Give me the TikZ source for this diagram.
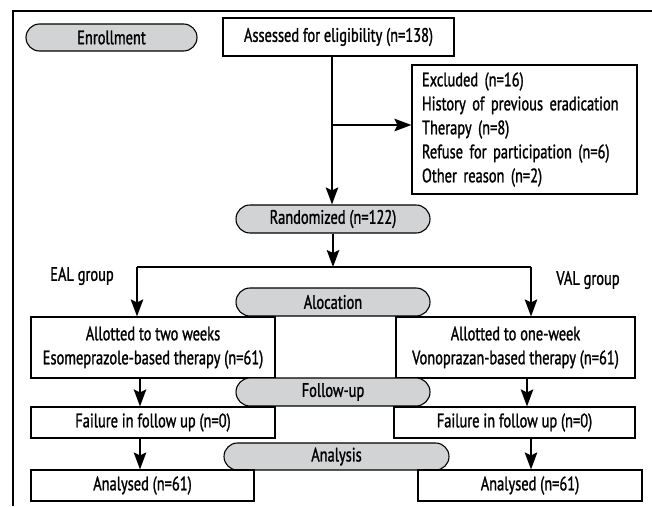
\documentclass[tikz,border=0pt]{standalone}
\usepackage{fontspec}
\setmainfont{PT Sans}[FakeStretch=0.74,FakeBold=1.2]
\usetikzlibrary{shapes.misc,arrows.meta}
\definecolor{pillgray}{HTML}{D1D3D4}
\begin{document}
\begin{tikzpicture}[x=1pt,y=-1pt,
  every node/.style={font=\fontsize{19.5}{24}\selectfont, inner sep=0pt},
  box/.style={draw, line width=1.1pt, rectangle, align=center},
  pill/.style={draw, line width=1.1pt, fill=pillgray, rounded rectangle, rounded rectangle arc length=180, minimum height=28pt},
  arr/.style={line width=2pt, -{Stealth[length=17pt,width=12.5pt,inset=3pt]}},
  ln/.style={line width=2pt}]
\useasboundingbox (0,0) rectangle (652,506);
\draw[ln] (13,506) -- (13,11) -- (652,11);
% nodes
\node[pill, minimum width=171pt, minimum height=27pt] (enr) at (111.5,37.5) {Enrollment};
\node[box, minimum width=231pt, minimum height=38pt] (assess) at (338.5,37) {Assessed for eligibility (n=138)};
\node[box, text width=205pt, inner xsep=10pt, align=left, minimum height=129pt] (excl) at (524.5,129.5)
  {Excluded (n=16)\\History of previous eradication\\Therapy (n=8)\\Refuse for participation (n=6)\\Other reason (n=2)};
\node[pill, minimum width=194pt] (rand) at (333,219) {Randomized (n=122)};
\node (eal) at (82,276) {EAL group};
\node (val) at (588,280) {VAL group};
\node[pill, minimum width=194pt] (aloc) at (333,302) {Alocation};
\node[box, minimum width=244pt, minimum height=61pt] (L1) at (153,347.5) {Allotted to two weeks\\Esomeprazole-based therapy (n=61)};
\node[box, minimum width=239pt, minimum height=61pt] (R1) at (515.5,347.5) {Allotted to one-week\\Vonoprazan-based therapy (n=61)};
\node[pill, minimum width=194pt] (fol) at (333,392) {Follow-up};
\node[box, minimum width=244pt, minimum height=31pt] (L2) at (153,422.5) {Failure in follow up (n=0)};
\node[box, minimum width=241pt, minimum height=31pt] (R2) at (514.5,422.5) {Failure in follow up (n=0)};
\node[pill, minimum width=225pt, minimum height=27pt] (ana) at (336.5,456.5) {Analysis};
\node[box, minimum width=223pt, minimum height=31pt] (L3) at (142.5,485.5) {Analysed (n=61)};
\node[box, minimum width=224pt, minimum height=31pt] (R3) at (530,485.5) {Analysed (n=61)};
% connectors
\coordinate (top) at (332,56);
\draw[arr] (assess.south -| top) -- (rand.north -| top);
\draw[arr] (top |- 0,125) -- (excl.west |- 0,125);
\coordinate (split) at (333,267);
\coordinate (cl) at (137,267);
\coordinate (cr) at (531,267);
\draw[arr] (rand.south) -- (split);
\draw[ln] (cl) -- (cr);
\draw[arr] (cl) -- (cl |- L1.north);
\draw[arr] (cr) -- (cr |- R1.north);
\coordinate (l2) at (140,0);
\coordinate (r2) at (527,0);
\coordinate (r3) at (531,0);
\draw[arr] (L1.south -| l2) -- (L2.north -| l2);
\draw[arr] (R1.south -| r2) -- (R2.north -| r2);
\draw[arr] (L2.south -| l2) -- (L3.north -| l2);
\draw[arr] (R2.south -| r3) -- (R3.north -| r3);
\end{tikzpicture}
\end{document}
